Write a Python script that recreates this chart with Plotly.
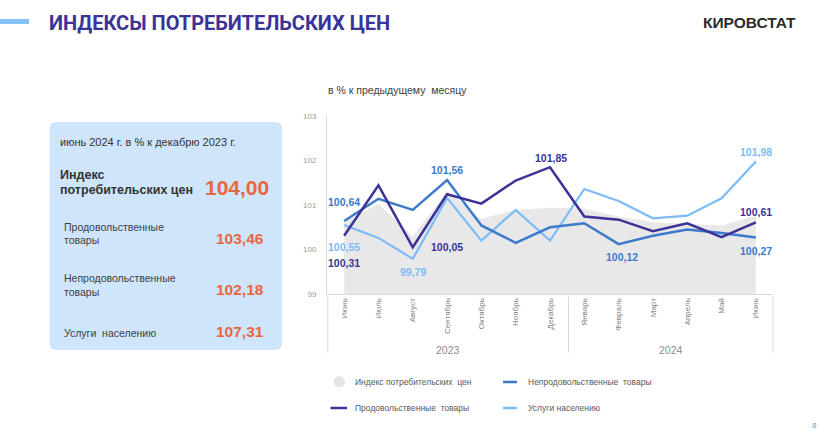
import plotly.graph_objects as go

# ---------------- data ----------------
months = ["Июнь", "Июль", "Август", "Сентябрь", "Октябрь", "Ноябрь", "Декабрь",
          "Январь", "Февраль", "Март", "Апрель", "Май", "Июнь"]
years = ["2023", "2024"]
cpi = [100.62, 101.03, 100.29, 101.31, 100.69, 100.89, 100.94,
       100.92, 100.74, 100.61, 100.58, 100.54, 100.76]
food = [100.31, 101.44, 100.05, 101.24, 101.03, 101.55, 101.85,
        100.74, 100.67, 100.41, 100.59, 100.28, 100.61]
nonfood = [100.64, 101.14, 100.89, 101.56, 100.54, 100.15, 100.50,
           100.59, 100.12, 100.31, 100.45, 100.37, 100.27]
services = [100.55, 100.26, 99.79, 101.16, 100.20, 100.89, 100.20,
            101.36, 101.09, 100.70, 100.76, 101.15, 101.98]
yticks = [99, 100, 101, 102, 103]

panel_title = "июнь 2024 г. в % к декабрю 2023 г."
panel_items = ["Продовольственные товары", "Непродовольственные товары", "Услуги населению"]
panel_cpi = 104.00
panel_vals = [103.46, 102.18, 107.31]

# ---------------- style ----------------
C_NAVY = "#3b3396"
C_MID = "#3c7acb"
C_LIGHT = "#7dbbf6"
C_GRAY = "#e8e8e8"
C_ORANGE = "#e9673f"
C_AXIS = "#d9d9d9"
FONT = "Liberation Sans, Arial, sans-serif"

W, H = 832, 432
L, R, T, B = 327, 773, 116, 294


def px(x):
    return (x - L) / (R - L)


def py(y):
    return (B - y) / (B - T)


def fmt(v):
    return f"{v:.2f}".replace(".", ",")


x = list(range(len(months)))

fig = go.Figure()
fig.add_trace(go.Scatter(x=x, y=cpi, mode="lines", fill="tozeroy", fillcolor=C_GRAY,
                         line=dict(width=0, color=C_GRAY), name="Индекс потребительских цен",
                         hoverinfo="skip"))
fig.add_trace(go.Scatter(x=x, y=services, mode="lines", line=dict(color=C_LIGHT, width=2.2),
                         name="Услуги населению"))
fig.add_trace(go.Scatter(x=x, y=nonfood, mode="lines", line=dict(color=C_MID, width=2.5),
                         name="Непродовольственные товары"))
fig.add_trace(go.Scatter(x=x, y=food, mode="lines", line=dict(color=C_NAVY, width=2.5),
                         name="Продовольственные товары"))

annotations = []
shapes = []

# data labels (series, index, color, xshift, yshift)
label_specs = [
    (nonfood, 0, C_MID, 0, 19.5),
    (services, 0, C_LIGHT, 0, -22),
    (food, 0, C_NAVY, 0, -27.5),
    (services, 2, C_LIGHT, 0, -13.5),
    (food, 2, C_NAVY, 34, 0),
    (nonfood, 3, C_MID, 0, 10.5),
    (food, 6, C_NAVY, 1, 9.5),
    (nonfood, 8, C_MID, 3, -13),
    (services, 12, C_LIGHT, 0, 9),
    (food, 12, C_NAVY, 0, 10),
    (nonfood, 12, C_MID, 0, -14),
]
for ser, i, col, xs, ys in label_specs:
    annotations.append(dict(x=x[i], y=ser[i], xref="x", yref="y", text=f"<b>{fmt(ser[i])}</b>",
                            showarrow=False, xshift=xs, yshift=ys,
                            font=dict(family=FONT, size=10.5, color=col)))

# header
shapes.append(dict(type="rect", xref="paper", yref="paper", x0=px(0), x1=px(29), y0=py(24), y1=py(19),
                   fillcolor="#86c0f8", line=dict(width=0), layer="above"))
annotations.append(dict(xref="paper", yref="paper", x=px(47), y=py(22.5), xanchor="left", yanchor="middle",
                        text="<b>ИНДЕКСЫ ПОТРЕБИТЕЛЬСКИХ ЦЕН</b>", showarrow=False,
                        font=dict(family="Roboto, Liberation Sans, sans-serif", size=20, color="#3a3398")))
annotations.append(dict(xref="paper", yref="paper", x=px(798), y=py(22), xanchor="right", yanchor="middle",
                        text="<b>КИРОВСТАТ</b>", showarrow=False,
                        font=dict(family=FONT, size=15.5, color="#2b2b2b")))

# chart subtitle
annotations.append(dict(xref="paper", yref="paper", x=px(326), y=py(89.5), xanchor="left", yanchor="middle",
                        text="в % к предыдущему  месяцу", showarrow=False,
                        font=dict(family=FONT, size=10.5, color="#404040")))

# left panel (rounded rect)
x0p, x1p, y0p, y1p, r = 49.5, 282, 122, 350, 7


def rr_path(x0, x1, y0, y1, r):
    pts = [
        f"M {px(x0 + r)},{py(y0)}",
        f"L {px(x1 - r)},{py(y0)}",
        f"Q {px(x1)},{py(y0)} {px(x1)},{py(y0 + r)}",
        f"L {px(x1)},{py(y1 - r)}",
        f"Q {px(x1)},{py(y1)} {px(x1 - r)},{py(y1)}",
        f"L {px(x0 + r)},{py(y1)}",
        f"Q {px(x0)},{py(y1)} {px(x0)},{py(y1 - r)}",
        f"L {px(x0)},{py(y0 + r)}",
        f"Q {px(x0)},{py(y0)} {px(x0 + r)},{py(y0)}",
        "Z",
    ]
    return " ".join(pts)


shapes.append(dict(type="path", xref="paper", yref="paper", path=rr_path(x0p, x1p, y0p, y1p, r),
                   fillcolor="#cfe5fb", line=dict(width=0), layer="below"))


def txt(xp, yp, text, size, color, anchor="left", bold=False):
    t = f"<b>{text}</b>" if bold else text
    annotations.append(dict(xref="paper", yref="paper", x=px(xp), y=py(yp), xanchor=anchor,
                            yanchor="middle", text=t, showarrow=False,
                            font=dict(family=FONT, size=size, color=color)))


txt(58, 141.5, panel_title, 11, "#333333")
txt(58, 175, "Индекс", 12.5, "#333333", bold=True)
txt(58, 190, "потребительских цен", 12.5, "#333333", bold=True)
txt(271, 187.5, fmt(panel_cpi), 21, C_ORANGE, anchor="right", bold=True)

item_lines = [("Продовольственные", "товары"), ("Непродовольственные", "товары"), ("Услуги  населению", None)]
item_y = [(226.5, 239.5, 238), (278, 291.5, 289), (332.5, None, 331.5)]
for (l1, l2), (ya, yb, yv), v in zip(item_lines, item_y, panel_vals):
    txt(62, ya, l1, 10.5, "#404040")
    if l2:
        txt(62, yb, l2, 10.5, "#404040")
    txt(266, yv, fmt(v), 15.5, C_ORANGE, anchor="right", bold=True)

# x-axis group separators and year labels
for xs in [327.8, 568.5, 773]:
    shapes.append(dict(type="line", xref="paper", yref="paper", x0=px(xs), x1=px(xs), y0=py(296.5), y1=py(352.5),
                       line=dict(color=C_AXIS, width=1)))
txt(448, 349.5, years[0], 10.5, "#8c8c8c", anchor="center")
txt(671, 349.5, years[1], 10.5, "#8c8c8c", anchor="center")

# legend (manual)
shapes.append(dict(type="circle", xref="paper", yref="paper", x0=px(333.5), x1=px(345), y0=py(387.5), y1=py(376),
                   fillcolor="#e5e5e5", line=dict(width=0)))
shapes.append(dict(type="line", xref="paper", yref="paper", x0=px(330.5), x1=px(347), y0=py(408), y1=py(408),
                   line=dict(color=C_NAVY, width=2.5)))
shapes.append(dict(type="line", xref="paper", yref="paper", x0=px(503), x1=px(517), y0=py(382), y1=py(382),
                   line=dict(color=C_MID, width=2.5)))
shapes.append(dict(type="line", xref="paper", yref="paper", x0=px(503), x1=px(517), y0=py(408), y1=py(408),
                   line=dict(color=C_LIGHT, width=2.5)))
txt(353, 382, "Индекс потребительских  цен", 8.5, "#595959")
txt(353, 408, "Продовольственные  товары", 8.5, "#595959")
txt(526, 382, "Непродовольственные  товары", 8.5, "#595959")
txt(526, 408, "Услуги населению", 8.5, "#595959")

# page number (bottom right corner)
txt(814, 425, "8", 8, "#5b9bd5", anchor="center")

fig.update_layout(
    width=W, height=H, autosize=False,
    margin=dict(l=L, r=W - R, t=T, b=H - B, pad=0),
    plot_bgcolor="white", paper_bgcolor="white",
    showlegend=False,
    annotations=annotations, shapes=shapes,
    xaxis=dict(range=[-0.5, len(months) - 0.5], tickvals=x, ticktext=months, tickangle=-90,
               showgrid=False, zeroline=False, showline=True, linecolor=C_AXIS, linewidth=1,
               ticks="", tickfont=dict(family=FONT, size=8, color="#7f7f7f"), fixedrange=True),
    yaxis=dict(range=[99, 103], tickvals=yticks, ticktext=[str(v) for v in yticks],
               showgrid=False, zeroline=False, showline=True, linecolor=C_AXIS, linewidth=1,
               ticks="", ticklabelstandoff=8, tickfont=dict(family=FONT, size=8, color="#999999"),
               fixedrange=True),
    font=dict(family=FONT),
)

fig.write_html("out.html")
